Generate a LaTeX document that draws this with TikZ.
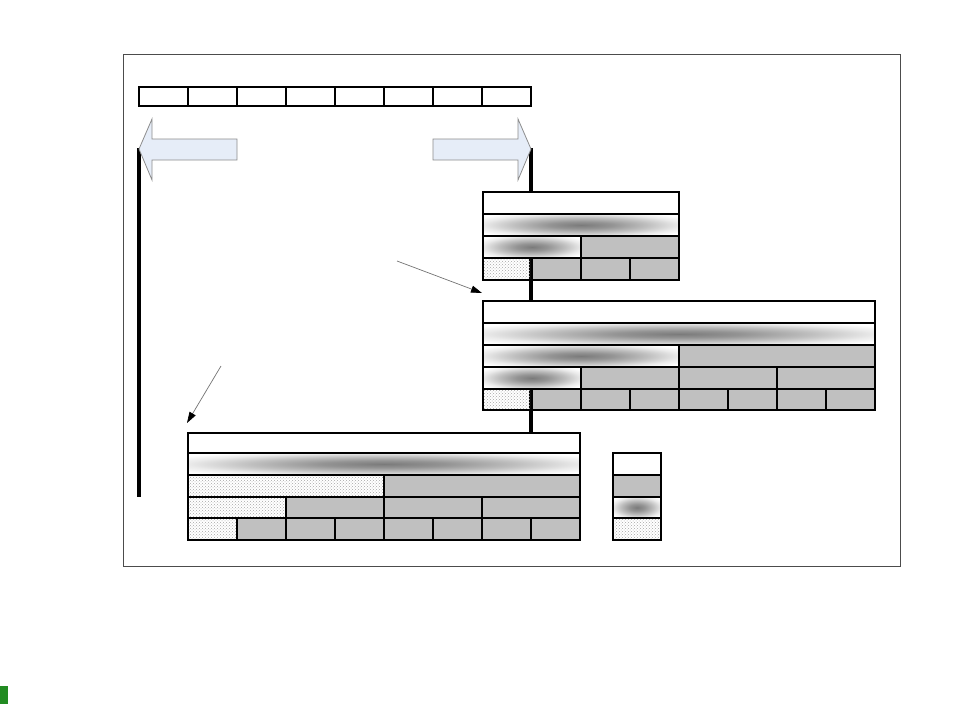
\documentclass[tikz,border=0pt]{standalone}
\usetikzlibrary{patterns,arrows.meta}
\definecolor{cellgray}{RGB}{192,192,192}
\definecolor{arrowblue}{RGB}{230,237,248}
\definecolor{markgreen}{RGB}{34,139,34}
\pgfdeclareradialshading{glow}{\pgfpoint{0bp}{0bp}}{color(0bp)=(black!52); color(8bp)=(black!42); color(17bp)=(black!25); color(25bp)=(black!8); color(31bp)=(white); color(50bp)=(white)}
\tikzset{cell/.style={draw,line width=1.2pt},
  plaincell/.style={cell,fill=white},
  greycell/.style={cell,fill=cellgray},
  hatchcell/.style={cell,pattern=crosshatch dots,pattern color=black!35},
  glowcell/.style={cell,shade,shading=glow},
  bigarrow/.style={draw=black!45,fill=arrowblue,line width=0.8pt},
  pointer/.style={draw=black!55,line width=0.7pt,-{Triangle[length=11pt,width=7pt,black]}}}
\begin{document}
\begin{tikzpicture}[x=1pt,y=-1pt]
\useasboundingbox (0,0) rectangle (980,704);
\fill[markgreen] (0,686) rectangle (8,704);
\draw[black!70,line width=0.8pt] (123,54) rectangle (900,566);
\foreach \i in {0,...,7} \draw[plaincell] (139+49*\i,87) rectangle +(49,19);
\draw[line width=3.5pt] (139,148) -- (139,497);
\draw[line width=3.5pt] (531,148) -- (531,432);
\draw[bigarrow] (139,149) -- (152,119) -- (152,139) -- (237,139) -- (237,160) -- (152,160) -- (152,180) -- cycle;
\draw[bigarrow] (433,139) -- (518,139) -- (518,119) -- (531,149) -- (518,180) -- (518,160) -- (433,160) -- cycle;
\draw[plaincell] (483,192) rectangle (679,214);
\draw[glowcell] (483,214) rectangle (679,236);
\draw[glowcell] (483,236) rectangle (581,258);
\draw[greycell] (581,236) rectangle (679,258);
\draw[hatchcell] (483,258) rectangle (532,280);
\foreach \i in {1,...,3} \draw[greycell] (483+49*\i,258) rectangle +(49,22);
\draw[plaincell] (483,301) rectangle (875,323);
\draw[glowcell] (483,323) rectangle (875,345);
\draw[glowcell] (483,345) rectangle (679,367);
\draw[greycell] (679,345) rectangle (875,367);
\draw[glowcell] (483,367) rectangle (581,389);
\foreach \i in {1,...,3} \draw[greycell] (483+98*\i,367) rectangle +(98,22);
\draw[hatchcell] (483,389) rectangle (532,410);
\foreach \i in {1,...,7} \draw[greycell] (483+49*\i,389) rectangle +(49,21);
\draw[plaincell] (188,433) rectangle (580,453);
\draw[glowcell] (188,453) rectangle (580,475);
\draw[hatchcell] (188,475) rectangle (384,497);
\draw[greycell] (384,475) rectangle (580,497);
\draw[hatchcell] (188,497) rectangle (286,518);
\foreach \i in {1,...,3} \draw[greycell] (188+98*\i,497) rectangle +(98,21);
\draw[hatchcell] (188,518) rectangle (237,540);
\foreach \i in {1,...,7} \draw[greycell] (188+49*\i,518) rectangle +(49,22);
\draw[plaincell] (613,453) rectangle (661,475);
\draw[greycell] (613,475) rectangle (661,497);
\draw[glowcell] (613,497) rectangle (661,518);
\draw[hatchcell] (613,518) rectangle (661,540);
\coordinate (from1) at (397,261);
\coordinate (to1) at (482,293);
\coordinate (from2) at (221,366);
\coordinate (to2) at (187,423);
\draw[pointer] (from1) -- (to1);
\draw[pointer] (from2) -- (to2);
\end{tikzpicture}
\end{document}
